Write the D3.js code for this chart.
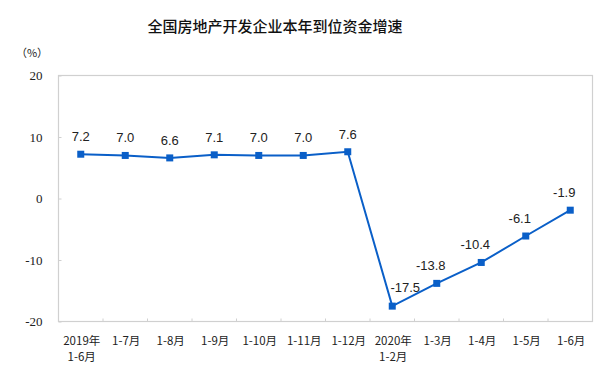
<!DOCTYPE html>
<html><head><meta charset="utf-8">
<script src="https://cdn.jsdelivr.net/npm/d3@7"></script>
<style>body{margin:0;background:#fff;}svg{display:block;}</style>
</head><body>
<script>
const title = "全国房地产开发企业本年到位资金增速";
const unitLabel = "（%）";
const categories = [["2019年","1-6月"],["1-7月"],["1-8月"],["1-9月"],["1-10月"],["1-11月"],["1-12月"],["2020年","1-2月"],["1-3月"],["1-4月"],["1-5月"],["1-6月"]];
const values = [7.2, 7.0, 6.6, 7.1, 7.0, 7.0, 7.6, -17.5, -13.8, -10.4, -6.1, -1.9];
const yTicks = [-20, -10, 0, 10, 20];

const W = 600, H = 391;
const m = {left: 58.5, top: 75.5, right: 600 - 592.5, bottom: 391 - 321.5};
const svg = d3.select("body").append("svg").attr("width", W).attr("height", H);

const x = d3.scaleBand().domain(d3.range(categories.length)).range([m.left, W - m.right]);
const y = d3.scaleLinear().domain([-20, 20]).range([H - m.bottom, m.top]);

const gray = "#d0d0d0";
const blue = "#0a5fc8";
const hy = f => d => f(d).replace("\u2212", "-");

// title
svg.append("text").attr("x", 275).attr("y", 32).attr("text-anchor", "middle")
  .attr("font-family", "Noto Sans CJK SC").attr("font-size", 15).attr("font-weight", 500).attr("fill", "#111").text(title);
svg.append("text").attr("x", 32).attr("y", 57).attr("text-anchor", "middle")
  .attr("font-family", "Noto Sans CJK SC").attr("font-size", 11).attr("fill", "#222").text(unitLabel);

// plot frame
svg.append("rect").attr("x", m.left).attr("y", m.top)
  .attr("width", W - m.left - m.right).attr("height", H - m.top - m.bottom)
  .attr("fill", "none").attr("stroke", gray).attr("stroke-width", 1.2);

// y axis
const yAxis = svg.append("g").attr("transform", `translate(${m.left},0)`)
  .call(d3.axisLeft(y).tickValues(yTicks).tickSize(-3).tickPadding(16).tickFormat(hy(d3.format("d"))));
yAxis.select(".domain").remove();
yAxis.selectAll("line").attr("stroke", gray);
yAxis.selectAll("text").attr("font-family", "Liberation Serif").attr("font-size", 13).attr("fill", "#222");

// x ticks at band boundaries (inside)
const bounds = d3.range(1, categories.length);
svg.append("g").selectAll("line").data(bounds).join("line")
  .attr("x1", i => x(i)).attr("x2", i => x(i))
  .attr("y1", H - m.bottom).attr("y2", H - m.bottom - 3)
  .attr("stroke", gray);

// x labels
const xl = svg.append("g").selectAll("text").data(categories).join("text")
  .attr("x", (d, i) => x(i) + x.bandwidth() / 2 + 1)
  .attr("y", 345)
  .attr("text-anchor", "middle")
  .attr("font-family", "Noto Sans CJK SC").attr("font-size", 11.5).attr("fill", "#222");
xl.each(function(d) {
  const t = d3.select(this);
  d.forEach((s, k) => t.append("tspan").attr("x", t.attr("x")).attr("dy", k === 0 ? 0 : 15.5).text(s));
});

// line
const cx = i => x(i) + x.bandwidth() / 2;
svg.append("path").datum(values)
  .attr("d", d3.line().x((d, i) => cx(i)).y(d => y(d)))
  .attr("fill", "none").attr("stroke", blue).attr("stroke-width", 2);

svg.append("g").selectAll("rect").data(values).join("rect")
  .attr("x", (d, i) => cx(i) - 3.5).attr("y", d => y(d) - 3.5)
  .attr("width", 7).attr("height", 7).attr("fill", blue);

// data labels
const minIdx = d3.minIndex(values);
const lf = hy(d3.format(".1f"));
svg.append("g").selectAll("text").data(values).join("text")
  .attr("x", (d, i) => i === minIdx ? cx(i) + 13 : (i > minIdx ? cx(i) - 6 : cx(i)))
  .attr("y", (d, i) => i === minIdx ? y(d) - 14 : y(d) - 13)
  .attr("text-anchor", "middle")
  .attr("font-family", "Liberation Sans").attr("font-size", 13).attr("fill", "#222")
  .text(d => lf(d));
</script>
</body></html>
